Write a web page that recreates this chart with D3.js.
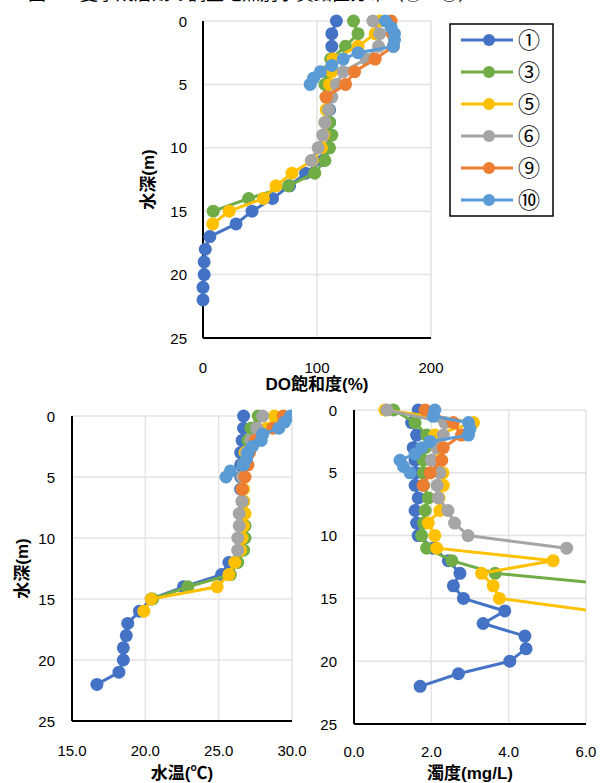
<!DOCTYPE html>
<html>
<head>
<meta charset="utf-8">
<script src="https://cdn.jsdelivr.net/npm/d3@7"></script>
<style>
  body { margin: 0; background: #fff; }
  svg { display: block; }
  text { font-family: "Liberation Sans", "Noto Sans CJK JP", sans-serif; }
</style>
</head>
<body>
<svg id="chart" width="600" height="783"></svg>
<script>
// Sites and their colours
const siteNames = ["①", "③", "⑤", "⑥", "⑨", "⑩"];
const siteColors = ["#4472C4", "#70AD47", "#FFC000", "#A5A5A5", "#ED7D31", "#5B9BD5"];

// Depths (m) of each site's samples
const depth1 = [0, 1, 2, 3, 4, 5, 6, 7, 8, 9, 10, 11, 12, 13, 14, 15, 16, 17, 18, 19, 20, 21, 22];
const depth3 = [0, 1, 2, 3, 4, 5, 6, 7, 8, 9, 10, 11, 12, 13, 14, 15];
const depth5 = [0, 1, 2, 3, 4, 5, 6, 7, 8, 9, 10, 11, 12, 13, 14, 15, 16];
const depth6 = [0, 1, 2, 3, 4, 5, 6, 7, 8, 9, 10, 11];
const depth9 = [0, 1, 2, 3, 4, 5, 6];
const depth10 = [0, 0.5, 1, 1.5, 2, 2.5, 3, 3.5, 4, 4.5, 5];

// DO saturation (%)
const do1 = [117, 113, 113, 113, 110, 110, 111, 111, 111, 111, 110, 105, 90, 76, 61, 43, 29, 6, 2, 1, 1, 0, 0];
const do3 = [132, 136, 125, 112, 108, 107, 108, 110, 111, 113, 111, 107, 98, 75, 40, 9];
const do5 = [155, 151, 136, 114, 113, 111, 109, 108, 107, 106, 104, 96, 78, 64, 53, 23, 8.5];
const do6 = [149, 155, 154, 143, 123, 117, 113, 110, 107, 105, 101, 95];
const do9 = [165, 166, 167, 151, 133, 125, 108];
const do10 = [160, 165, 168, 168, 167, 136, 123, 113, 103, 97, 94];

// Water temperature (°C)
const temp1 = [26.7, 26.7, 26.6, 26.5, 26.5, 26.5, 26.5, 26.6, 26.6, 26.6, 26.6, 26.5, 25.7, 25.2, 22.6, 20.4, 19.6, 18.8, 18.7, 18.5, 18.5, 18.2, 16.7];
const temp3 = [27.7, 27.2, 27.0, 26.8, 26.7, 26.6, 26.6, 26.7, 26.7, 26.8, 26.8, 26.7, 26.3, 25.8, 22.9, 20.5];
const temp5 = [28.8, 28.3, 27.3, 26.8, 26.7, 26.7, 26.7, 26.7, 26.8, 26.7, 26.6, 26.5, 26.1, 25.7, 24.9, 20.4, 19.9];
const temp6 = [28.0, 27.6, 27.2, 26.9, 26.7, 26.6, 26.6, 26.6, 26.4, 26.4, 26.3, 26.3];
const temp9 = [29.4, 28.7, 27.5, 27.1, 27.0, 26.8, 26.6];
const temp10 = [29.9, 29.5, 29.1, 28.0, 27.9, 27.3, 27.0, 26.9, 26.7, 25.8, 25.5];

// Turbidity (mg/L)
const turb1 = [1.66, 1.49, 1.62, 1.53, 1.58, 1.6, 1.58, 1.66, 1.58, 1.62, 1.66, 2.05, 2.44, 2.74, 2.57, 2.83, 3.9, 3.34, 4.42, 4.45, 4.03, 2.7, 1.71];
const turb3 = [1.02, 1.58, 1.88, 1.84, 1.79, 1.79, 1.8, 1.92, 1.84, 1.8, 1.75, 1.88, 2.53, 3.65, 7.0, 8.0];
const turb5 = [0.8, 3.09, 2.09, 2.2, 2.2, 2.3, 2.31, 2.2, 2.22, 1.92, 2.09, 2.14, 5.15, 3.3, 3.6, 3.76, 6.2];
const turb6 = [0.85, 2.35, 2.31, 2.14, 2.0, 2.22, 2.15, 2.18, 2.43, 2.6, 2.95, 5.5];
const turb9 = [1.84, 2.57, 2.78, 2.31, 2.27, 1.97, 1.79];
const turb10 = [2.09, 2.05, 2.96, 3.0, 2.96, 1.97, 1.75, 1.58, 1.19, 1.28, 1.45];

// Axis ticks
const depthTicks = [0, 5, 10, 15, 20, 25];
const doTicks = [0, 100, 200];
const tempTicks = [15, 20, 25, 30];
const turbTicks = [0, 2, 4, 6];

const depths = [depth1, depth3, depth5, depth6, depth9, depth10];
const doValues = [do1, do3, do5, do6, do9, do10];
const tempValues = [temp1, temp3, temp5, temp6, temp9, temp10];
const turbValues = [turb1, turb3, turb5, turb6, turb9, turb10];

const svg = d3.select("#chart");
const jpFont = "'Noto Sans CJK JP', sans-serif";

// Title line (cut off at the top edge in the source, only its lowest pixels show)
svg.append("text")
    .attr("x", 28).attr("y", 0)
    .attr("font-size", 18)
    .attr("font-family", jpFont)
    .attr("fill", "#000")
    .text("図-4　夏季成層期の調査地点別水質鉛直分布（①～⑩）");

function buildSeries(values) {
    return siteNames.map((name, i) => ({
        name,
        color: siteColors[i],
        points: depths[i].map((d, j) => ({ depth: d, value: values[i][j] }))
    }));
}

function drawPanel(opts) {
    const { id, xDomain, xRange, yRange, xTicks, xFormat, values, yLabelX, xLabelY, xTitle, xTitleY, yTitle, yTitleX } = opts;

    const x = d3.scaleLinear().domain(xDomain).range(xRange);
    const y = d3.scaleLinear().domain([0, 25]).range(yRange);
    const g = svg.append("g");

    // gridlines
    g.append("g").selectAll("line.h")
        .data(depthTicks.slice(0, -1))
        .join("line")
        .attr("x1", xRange[0]).attr("x2", xRange[1])
        .attr("y1", d => y(d)).attr("y2", d => y(d))
        .attr("stroke", "#e3e3e3").attr("stroke-width", 1.5);
    g.append("g").selectAll("line.v")
        .data(xTicks.slice(1))
        .join("line")
        .attr("x1", d => x(d)).attr("x2", d => x(d))
        .attr("y1", yRange[0]).attr("y2", yRange[1])
        .attr("stroke", "#e3e3e3").attr("stroke-width", 1.5);

    // axis lines
    g.append("line")
        .attr("x1", xRange[0]).attr("x2", xRange[0])
        .attr("y1", yRange[0]).attr("y2", yRange[1])
        .attr("stroke", "#000").attr("stroke-width", 2);
    g.append("line")
        .attr("x1", xRange[0]).attr("x2", xRange[1])
        .attr("y1", yRange[1]).attr("y2", yRange[1])
        .attr("stroke", "#000").attr("stroke-width", 2);

    // tick labels
    g.append("g").selectAll("text")
        .data(depthTicks)
        .join("text")
        .attr("x", yLabelX).attr("y", d => y(d))
        .attr("text-anchor", "end")
        .attr("dominant-baseline", "central")
        .attr("font-size", 15)
        .text(d => d);
    g.append("g").selectAll("text")
        .data(xTicks)
        .join("text")
        .attr("x", d => x(d)).attr("y", xLabelY)
        .attr("text-anchor", "middle")
        .attr("font-size", 15)
        .text(xFormat);

    // axis titles
    g.append("text")
        .attr("x", (xRange[0] + xRange[1]) / 2).attr("y", xTitleY)
        .attr("text-anchor", "middle")
        .attr("font-size", 17).attr("font-weight", "bold")
        .attr("font-family", jpFont)
        .text(xTitle);
    if (yTitle) {
        const cy = (yRange[0] + yRange[1]) / 2;
        g.append("text")
            .attr("transform", `translate(${yTitleX},${cy}) rotate(-90)`)
            .attr("text-anchor", "middle")
            .attr("dominant-baseline", "central")
            .attr("font-size", 17).attr("font-weight", "bold")
            .attr("font-family", jpFont)
            .text(yTitle);
    }

    // data, clipped at the right edge of the plot
    svg.append("clipPath").attr("id", id)
        .append("rect")
        .attr("x", xRange[0] - 12).attr("y", yRange[0] - 12)
        .attr("width", xRange[1] - xRange[0] + 12)
        .attr("height", yRange[1] - yRange[0] + 24);

    const line = d3.line().x(p => x(p.value)).y(p => y(p.depth));
    const series = buildSeries(values);
    const dataG = g.append("g").attr("clip-path", `url(#${id})`);

    series.forEach(s => {
        const sg = dataG.append("g");
        sg.append("path")
            .attr("d", line(s.points))
            .attr("fill", "none")
            .attr("stroke", s.color)
            .attr("stroke-width", 3);
        sg.selectAll("circle")
            .data(s.points)
            .join("circle")
            .attr("cx", p => x(p.value))
            .attr("cy", p => y(p.depth))
            .attr("r", 6.5)
            .attr("fill", s.color);
    });
}

// DO saturation
drawPanel({
    id: "clipDo", xDomain: [0, 200], xRange: [203, 431], yRange: [21, 338],
    xTicks: doTicks, xFormat: d => d, values: doValues,
    yLabelX: 187, xLabelY: 373, xTitle: "DO飽和度(%)", xTitleY: 390,
    yTitle: "水深(m)", yTitleX: 148
});

// Water temperature
drawPanel({
    id: "clipTemp", xDomain: [15, 30], xRange: [72, 292], yRange: [416, 721],
    xTicks: tempTicks, xFormat: d => d.toFixed(1), values: tempValues,
    yLabelX: 55, xLabelY: 756, xTitle: "水温(℃)", xTitleY: 779,
    yTitle: "水深(m)", yTitleX: 22
});

// Turbidity
drawPanel({
    id: "clipTurb", xDomain: [0, 6], xRange: [354, 586], yRange: [410, 724],
    xTicks: turbTicks, xFormat: d => d.toFixed(1), values: turbValues,
    yLabelX: 337, xLabelY: 757, xTitle: "濁度(mg/L)", xTitleY: 779,
    yTitle: null
});

// Legend
const legend = svg.append("g");
legend.append("rect")
    .attr("x", 450).attr("y", 24)
    .attr("width", 103).attr("height", 192)
    .attr("fill", "#fff").attr("stroke", "#000").attr("stroke-width", 1.5);
const legendY = d3.scalePoint().domain(siteNames).range([40, 200]);
siteNames.forEach((name, i) => {
    const ly = legendY(name);
    legend.append("line")
        .attr("x1", 461).attr("x2", 513)
        .attr("y1", ly).attr("y2", ly)
        .attr("stroke", siteColors[i]).attr("stroke-width", 3);
    legend.append("circle")
        .attr("cx", 489).attr("cy", ly).attr("r", 6)
        .attr("fill", siteColors[i]);
    legend.append("text")
        .attr("x", 518).attr("y", ly)
        .attr("dominant-baseline", "central")
        .attr("font-size", 22)
        .attr("font-family", jpFont)
        .text(name);
});
</script>
</body>
</html>
